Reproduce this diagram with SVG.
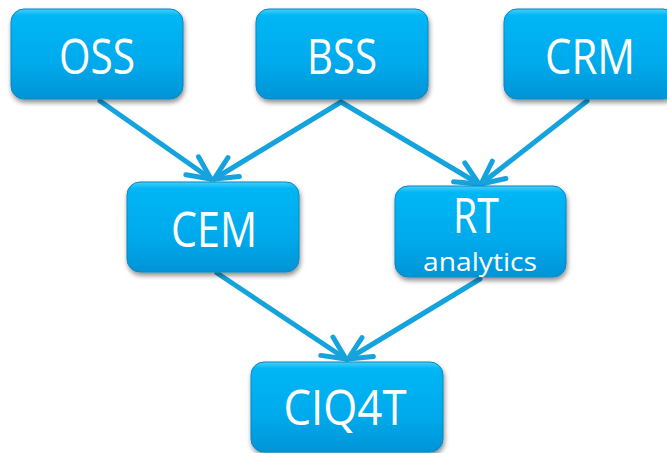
<svg xmlns="http://www.w3.org/2000/svg" width="667" height="453" viewBox="0 0 667 453">
<defs>
<linearGradient id="g" x1="0" y1="0" x2="0" y2="1">
<stop offset="0" stop-color="#45d0fc"/>
<stop offset="0.07" stop-color="#06b6f4"/>
<stop offset="0.6" stop-color="#00aaec"/>
<stop offset="1" stop-color="#0494d6"/>
</linearGradient>
<filter id="sh" x="-10%" y="-10%" width="125%" height="130%">
<feDropShadow dx="1" dy="3" stdDeviation="2.5" flood-color="#000" flood-opacity="0.45"/>
</filter>
<marker id="ah" markerUnits="userSpaceOnUse" markerWidth="40" markerHeight="40" viewBox="-30 -20 40 40" refX="0" refY="0" orient="auto" overflow="visible">
<path d="M-23,-11 L0,0 L-23,11" fill="none" stroke="#15a3de" stroke-width="5" stroke-linecap="round" stroke-linejoin="round"/>
</marker>
</defs>
<style>
.box{fill:url(#g);stroke:#0a86bf;stroke-width:1;filter:url(#sh)}
.t{font-family:"Open Sans","DejaVu Sans",sans-serif;fill:#fff;text-anchor:middle}
.big{font-size:50px}
.small{font-size:25px}
.c{stroke:#15a3de;stroke-width:5;fill:none;stroke-linecap:round;marker-end:url(#ah)}
</style>
<rect width="667" height="453" fill="#fff"/>
<g id="connectors">
<line class="c" x1="100" y1="101" x2="211" y2="179"/>
<line class="c" x1="341" y1="102" x2="214" y2="179"/>
<line class="c" x1="341" y1="102" x2="479" y2="184"/>
<line class="c" x1="587" y1="101" x2="481" y2="184"/>
<line class="c" x1="217" y1="273" x2="346" y2="359"/>
<line class="c" x1="480" y1="279" x2="348" y2="359"/>
</g>
<g id="OSS">
<rect class="box" x="11" y="9" width="172" height="90" rx="13"/>
<text class="t big" x="97" y="74" textLength="76" lengthAdjust="spacingAndGlyphs">OSS</text>
</g>
<g id="BSS">
<rect class="box" x="256" y="9" width="172" height="90" rx="13"/>
<text class="t big" x="342" y="74" textLength="70" lengthAdjust="spacingAndGlyphs">BSS</text>
</g>
<g id="CRM">
<rect class="box" x="504" y="9" width="172" height="90" rx="13"/>
<text class="t big" x="590" y="74" textLength="90" lengthAdjust="spacingAndGlyphs">CRM</text>
</g>
<g id="CEM">
<rect class="box" x="127" y="182" width="172" height="90" rx="13"/>
<text class="t big" x="214" y="247" textLength="86" lengthAdjust="spacingAndGlyphs">CEM</text>
</g>
<g id="RT">
<rect class="box" x="395" y="186" width="171" height="91" rx="13"/>
<text class="t big" x="476" y="233" textLength="46" lengthAdjust="spacingAndGlyphs">RT</text>
<text class="t small" x="480" y="271" textLength="114" lengthAdjust="spacingAndGlyphs">analytics</text>
</g>
<g id="CIQ4T">
<rect class="box" x="251" y="362" width="192" height="90" rx="13"/>
<text class="t big" x="345" y="425" textLength="123" lengthAdjust="spacingAndGlyphs">CIQ4T</text>
</g>
</svg>
